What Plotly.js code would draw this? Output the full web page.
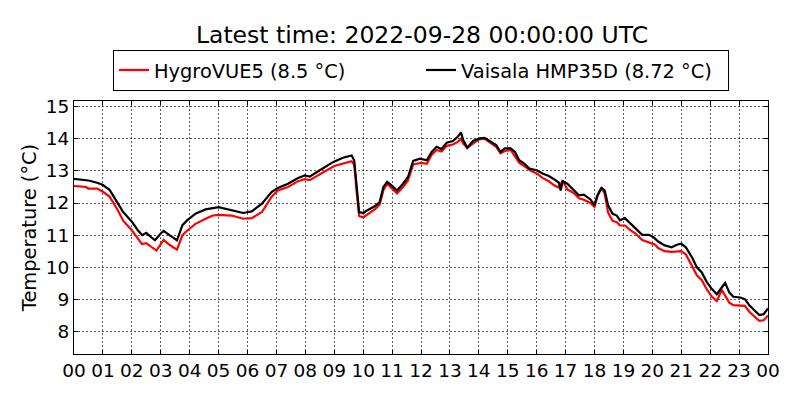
<!DOCTYPE html>
<html>
<head>
<meta charset="utf-8">
<script src="https://cdn.plot.ly/plotly-3.0.1.min.js"></script>
<style>
  body { margin: 0; background: #fff; }
  #chart { width: 800px; height: 400px; }
</style>
</head>
<body>
<div id="chart"></div>
<script>
// hours since 2022-09-27 00:00 UTC
var vaisalaHours = [0, 0.3, 0.5, 0.8, 1.0, 1.23, 1.46, 1.69, 2.0, 2.2, 2.36, 2.5, 2.65, 2.8, 3.0, 3.1, 3.3, 3.56, 3.75, 3.9,
    4.2, 4.55, 5.0, 5.45, 5.85, 6.15, 6.5, 6.83, 7.05, 7.4, 7.6, 7.75, 7.98, 8.15, 8.5, 8.97, 9.3, 9.6, 9.69, 9.77,
    9.86, 10.0, 10.1, 10.4, 10.57, 10.7, 10.83, 10.98, 11.17, 11.38, 11.55, 11.73, 11.96, 12.2, 12.37, 12.54, 12.71, 12.89, 13.1, 13.27,
    13.38, 13.46, 13.6, 13.8, 14.03, 14.2, 14.44, 14.6, 14.75, 14.9, 15.1, 15.25, 15.4, 15.57, 15.75, 16.0, 16.2, 16.42, 16.6, 16.77,
    16.83, 16.9, 17.06, 17.3, 17.46, 17.63, 17.75, 17.86, 18.0, 18.1, 18.24, 18.35, 18.47, 18.62, 18.77, 18.88, 19.05, 19.25, 19.42, 19.65,
    19.88, 20.05, 20.2, 20.43, 20.67, 20.85, 21.0, 21.16, 21.37, 21.54, 21.71, 21.89, 22.06, 22.23, 22.4, 22.52, 22.66, 22.8, 23.04, 23.2,
    23.37, 23.55, 23.7, 23.85, 24.0];
var vaisalaTemp = [12.75, 12.72, 12.70, 12.63, 12.56, 12.41, 12.09, 11.73, 11.42, 11.16, 11.0, 11.07, 10.95, 10.84, 11.05, 11.13, 11.0, 10.84, 11.31, 11.45,
    11.67, 11.8, 11.87, 11.77, 11.69, 11.74, 11.98, 12.34, 12.47, 12.6, 12.7, 12.78, 12.86, 12.82, 13.02, 13.28, 13.41, 13.48, 13.33, 12.5,
    11.72, 11.69, 11.75, 11.9, 12.03, 12.5, 12.66, 12.55, 12.39, 12.6, 12.81, 13.31, 13.38, 13.33, 13.59, 13.75, 13.68, 13.88, 13.93, 14.06,
    14.2, 13.96, 13.72, 13.93, 14.01, 14.03, 13.9, 13.8, 13.59, 13.7, 13.7, 13.59, 13.33, 13.23, 13.07, 13.02, 12.92, 12.84, 12.74, 12.63,
    12.39, 12.68, 12.6, 12.39, 12.24, 12.26, 12.19, 12.11, 11.93, 12.24, 12.47, 12.39, 11.93, 11.67, 11.61, 11.46, 11.53, 11.35, 11.2, 11.01,
    11.01, 10.93, 10.8, 10.68, 10.62, 10.7, 10.73, 10.62, 10.31, 10.0, 9.84, 9.53, 9.32, 9.16, 9.37, 9.51, 9.22, 9.08, 9.06, 9.01,
    8.8, 8.64, 8.51, 8.54, 8.72];

var hygroHours = [0, 0.4, 0.5, 0.8, 1.0, 1.23, 1.5, 1.7, 2.0, 2.2, 2.35, 2.5, 2.65, 2.85, 3.1, 3.3, 3.56, 3.75, 3.85, 4.2,
    4.55, 4.8, 5.0, 5.45, 5.85, 6.15, 6.5, 6.83, 7.05, 7.4, 7.75, 7.98, 8.15, 8.5, 9.0, 9.6, 9.69, 9.78, 9.86, 10.0,
    10.4, 10.57, 10.7, 10.83, 11.17, 11.38, 11.55, 11.73, 12.0, 12.2, 12.37, 12.54, 12.71, 12.89, 13.1, 13.27, 13.38, 13.46, 13.6, 13.8,
    14.0, 14.2, 14.44, 14.6, 14.75, 14.9, 15.1, 15.4, 15.57, 15.8, 16.0, 16.2, 16.42, 16.6, 16.77, 16.9, 17.06, 17.3, 17.46, 17.63,
    17.86, 18.0, 18.1, 18.24, 18.35, 18.47, 18.62, 18.77, 18.88, 19.05, 19.25, 19.42, 19.65, 19.88, 20.1, 20.2, 20.43, 20.67, 21.0, 21.16,
    21.37, 21.54, 21.71, 21.89, 22.06, 22.23, 22.4, 22.66, 22.8, 23.2, 23.37, 23.55, 23.7, 23.85, 24.0];
var hygroTemp = [12.53, 12.5, 12.45, 12.45, 12.35, 12.2, 11.8, 11.45, 11.15, 10.92, 10.72, 10.75, 10.65, 10.52, 10.85, 10.7, 10.55, 11.0, 11.09, 11.35,
    11.51, 11.61, 11.63, 11.61, 11.51, 11.53, 11.72, 12.19, 12.39, 12.5, 12.68, 12.74, 12.71, 12.9, 13.15, 13.3, 13.2, 12.3, 11.6, 11.55,
    11.8, 11.95, 12.4, 12.6, 12.3, 12.5, 12.7, 13.2, 13.25, 13.22, 13.5, 13.65, 13.6, 13.78, 13.82, 13.9, 14.0, 13.85, 13.72, 13.85,
    13.98, 14.0, 13.85, 13.75, 13.55, 13.62, 13.65, 13.25, 13.15, 13.0, 12.92, 12.78, 12.68, 12.55, 12.48, 12.7, 12.42, 12.3, 12.15, 12.1,
    12.0, 11.88, 12.2, 12.47, 12.3, 11.7, 11.45, 11.4, 11.3, 11.3, 11.15, 11.05, 10.85, 10.78, 10.7, 10.6, 10.5, 10.48, 10.5, 10.4,
    10.05, 9.75, 9.6, 9.3, 9.08, 8.95, 9.3, 8.9, 8.82, 8.8, 8.6, 8.45, 8.33, 8.35, 8.5];

var hourTicks = [0, 1, 2, 3, 4, 5, 6, 7, 8, 9, 10, 11, 12, 13, 14, 15, 16, 17, 18, 19, 20, 21, 22, 23, 24];
var hourLabels = ['00', '01', '02', '03', '04', '05', '06', '07', '08', '09', '10', '11',
    '12', '13', '14', '15', '16', '17', '18', '19', '20', '21', '22', '23', '00'];
var tempTicks = [8, 9, 10, 11, 12, 13, 14, 15];

var traceHygro = {
    x: hygroHours,
    y: hygroTemp,
    type: 'scatter',
    mode: 'lines',
    name: 'HygroVUE5 (8.5 °C)',
    line: { color: '#ff0000', width: 2.2 }
};
var traceVaisala = {
    x: vaisalaHours,
    y: vaisalaTemp,
    type: 'scatter',
    mode: 'lines',
    name: 'Vaisala HMP35D (8.72 °C)',
    line: { color: '#000000', width: 2.2 }
};

var fam = 'DejaVu Sans, sans-serif';
var tickFont = { family: fam, size: 18.5, color: '#000' };
var labelFont = { family: fam, size: 19.4, color: '#000' };

var layout = {
    width: 800,
    height: 400,
    margin: { l: 74, r: 32, t: 101, b: 46 },
    paper_bgcolor: '#fff',
    plot_bgcolor: '#fff',
    font: labelFont,
    showlegend: true,
    title: {
        text: 'Latest time: 2022-09-28 00:00:00 UTC',
        font: { family: fam, size: 23.5, color: '#000' },
        x: 0.5275,
        xanchor: 'center',
        y: 0.912,
        yanchor: 'middle'
    },
    legend: {
        orientation: 'h',
        x: 0.5,
        xanchor: 'center',
        y: 1.04,
        yanchor: 'bottom',
        bordercolor: '#000',
        borderwidth: 1,
        bgcolor: '#fff',
        font: labelFont,
        entrywidth: 262,
        entrywidthmode: 'pixels',
        traceorder: 'normal'
    },
    xaxis: {
        range: [0, 24],
        tickvals: hourTicks,
        ticktext: hourLabels,
        ticks: 'inside',
        ticklen: 4,
        tickcolor: '#000',
        showline: true,
        linecolor: '#000',
        linewidth: 1,
        mirror: 'ticks',
        showgrid: true,
        gridcolor: 'rgba(0,0,0,0.8)',
        gridwidth: 0.8,
        griddash: '1.5px,2.5px',
        zeroline: false,
        tickfont: tickFont
    },
    yaxis: {
        range: [7.3, 15.175],
        tickvals: tempTicks,
        ticks: 'inside',
        ticklen: 4,
        tickcolor: '#000',
        showline: true,
        linecolor: '#000',
        linewidth: 1,
        mirror: 'ticks',
        showgrid: true,
        gridcolor: 'rgba(0,0,0,0.8)',
        gridwidth: 0.8,
        griddash: '1.5px,2.5px',
        zeroline: false,
        tickfont: tickFont,
        title: { text: 'Temperature (°C)', font: labelFont, standoff: 3 }
    }
};

Plotly.newPlot('chart', [traceHygro, traceVaisala], layout, { staticPlot: true, displayModeBar: false });
</script>
</body>
</html>
